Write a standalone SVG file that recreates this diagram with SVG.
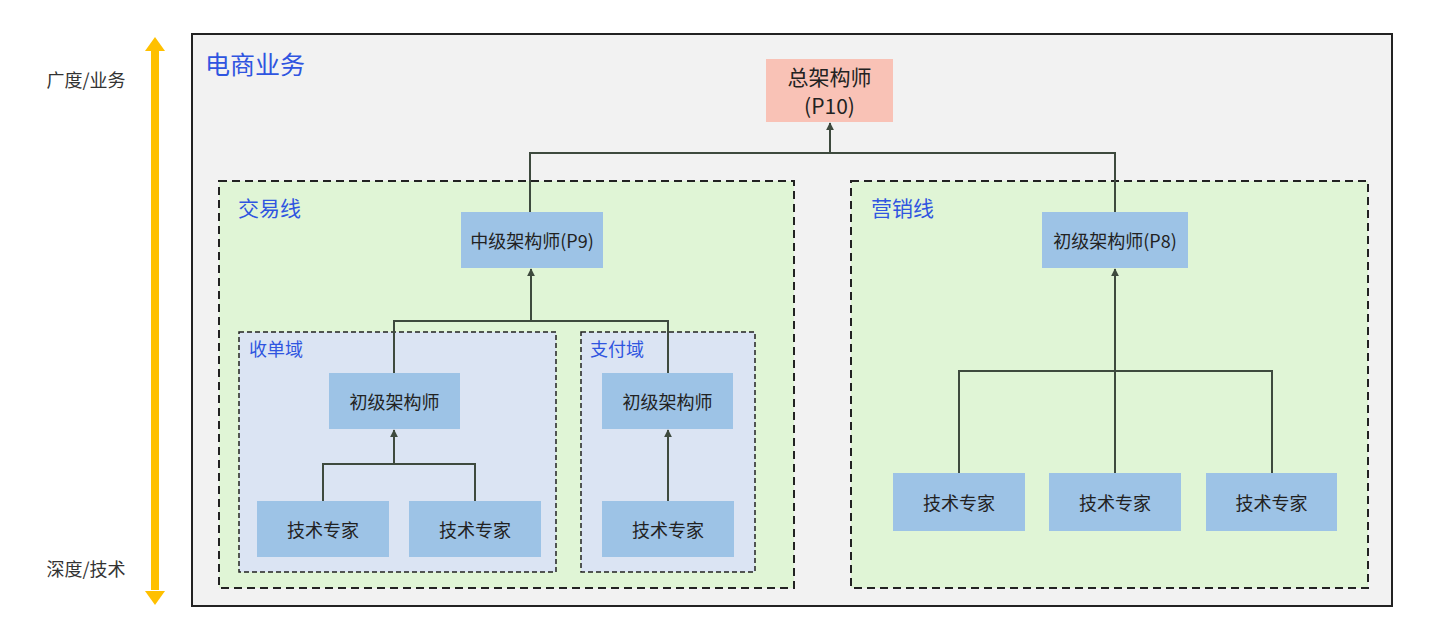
<svg xmlns="http://www.w3.org/2000/svg" width="1433" height="635" viewBox="0 0 1433 635">
<style>
text{font-family:"Noto Sans CJK SC","Noto Sans",sans-serif;}
.lbl{font-size:18px;fill:#333;text-anchor:middle;dominant-baseline:central;}
.title{fill:#2f55e0;dominant-baseline:central;}
.t1{font-size:25px;}
.t2{font-size:21px;}
.t3{font-size:18px;}
.node{fill:#9dc3e6;}
.nt{font-size:18px;fill:#222;text-anchor:middle;dominant-baseline:central;}
.big{font-size:21px;}
.line{fill:#e0f5d6;stroke:#222;stroke-width:2;stroke-dasharray:8 5;}
.dom{fill:#dbe4f3;stroke:#222;stroke-width:1.5;stroke-dasharray:5 3;}
.conn{fill:none;stroke:#3e4a3e;stroke-width:2;}
</style>
<defs>
<marker id="ah" viewBox="0 0 10 10" refX="9" refY="5" markerWidth="4" markerHeight="4" orient="auto" markerUnits="strokeWidth">
<path d="M0,0 L10,5 L0,10 z" fill="#3e4a3e"/>
</marker>
</defs>
<rect width="1433" height="635" fill="#ffffff"/>
<g id="axis">
<rect x="151" y="50" width="8" height="540" fill="#ffc000"/>
<polygon points="155,37 165,51 145,51" fill="#ffc000"/>
<polygon points="155,605 165,591 145,591" fill="#ffc000"/>
<text class="lbl" x="86" y="79">广度/业务</text>
<text class="lbl" x="86" y="568">深度/技术</text>
</g>
<g id="ecommerce">
<rect x="192" y="34" width="1200" height="572" fill="#f2f2f2" stroke="#222" stroke-width="2"/>
<text class="title t1" x="205" y="63">电商业务</text>
</g>
<g id="trade-line">
<rect class="line" x="219" y="181" width="575" height="407"/>
<text class="title t2" x="238" y="207">交易线</text>
</g>
<g id="marketing-line">
<rect class="line" x="851" y="181" width="517" height="407"/>
<text class="title t2" x="871" y="207">营销线</text>
</g>
<g id="acquiring-domain">
<rect class="dom" x="239" y="332" width="317" height="240"/>
<text class="title t3" x="249" y="348">收单域</text>
</g>
<g id="payment-domain">
<rect class="dom" x="581" y="332" width="174" height="240"/>
<text class="title t3" x="590" y="348">支付域</text>
</g>
<g id="connectors">
<path class="conn" d="M530,212 V153 H1115 V212"/>
<path class="conn" d="M830,153 V123" marker-end="url(#ah)"/>
<path class="conn" d="M394,373 V321 H668 V373"/>
<path class="conn" d="M531,321 V269" marker-end="url(#ah)"/>
<path class="conn" d="M323,501 V464 H475 V501"/>
<path class="conn" d="M394,464 V430" marker-end="url(#ah)"/>
<path class="conn" d="M668,501 V430" marker-end="url(#ah)"/>
<path class="conn" d="M959,473 V371 H1272 V473"/>
<path class="conn" d="M1115,473 V269" marker-end="url(#ah)"/>
</g>
<g id="chief-architect">
<rect x="766" y="59" width="127" height="63" fill="#f9c2b6"/>
<text class="nt big" x="829.5" y="76">总架构师</text>
<text class="nt big" x="829.5" y="105">(P10)</text>
</g>
<g id="mid-architect-p9">
<rect class="node" x="461" y="212" width="142" height="56"/>
<text class="nt" x="532" y="240">中级架构师(P9)</text>
</g>
<g id="junior-architect-p8">
<rect class="node" x="1042" y="212" width="146" height="56"/>
<text class="nt" x="1115" y="240">初级架构师(P8)</text>
</g>
<g id="junior-architect-acq">
<rect class="node" x="329" y="373" width="131" height="56"/>
<text class="nt" x="394.5" y="401">初级架构师</text>
</g>
<g id="junior-architect-pay">
<rect class="node" x="602" y="373" width="131" height="56"/>
<text class="nt" x="667.5" y="401">初级架构师</text>
</g>
<g id="expert-acq-1">
<rect class="node" x="257" y="501" width="132" height="56"/>
<text class="nt" x="323" y="529">技术专家</text>
</g>
<g id="expert-acq-2">
<rect class="node" x="409" y="501" width="132" height="56"/>
<text class="nt" x="475" y="529">技术专家</text>
</g>
<g id="expert-pay">
<rect class="node" x="602" y="501" width="132" height="56"/>
<text class="nt" x="668" y="529">技术专家</text>
</g>
<g id="expert-mkt-1">
<rect class="node" x="893" y="473" width="132" height="58"/>
<text class="nt" x="959" y="502">技术专家</text>
</g>
<g id="expert-mkt-2">
<rect class="node" x="1049" y="473" width="132" height="58"/>
<text class="nt" x="1115" y="502">技术专家</text>
</g>
<g id="expert-mkt-3">
<rect class="node" x="1206" y="473" width="131" height="58"/>
<text class="nt" x="1271.5" y="502">技术专家</text>
</g>
</svg>
